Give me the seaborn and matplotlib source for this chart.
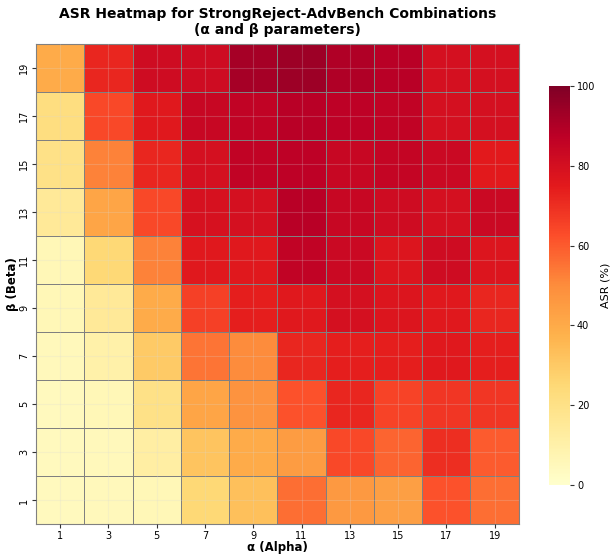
import matplotlib
matplotlib.use("Agg")
import matplotlib.pyplot as plt
import numpy as np
import pandas as pd
import seaborn as sns

alphas = [1, 3, 5, 7, 9, 11, 13, 15, 17, 19]
betas = [1, 3, 5, 7, 9, 11, 13, 15, 17, 19]

# ASR (%) per beta row, columns follow alphas
asr_b1 = [4, 5, 6, 25, 33, 56, 46, 44, 62, 56]
asr_b3 = [4, 5, 12, 32, 40, 45, 64, 58, 70, 60]
asr_b5 = [4, 6, 20, 42, 48, 62, 72, 65, 68, 68]
asr_b7 = [5, 10, 30, 55, 50, 72, 74, 74, 76, 74]
asr_b9 = [6, 15, 40, 66, 74, 76, 80, 77, 76, 72]
asr_b11 = [6, 25, 52, 76, 76, 86, 83, 77, 82, 77]
asr_b13 = [15, 42, 64, 79, 80, 88, 84, 82, 80, 83]
asr_b15 = [20, 52, 72, 80, 86, 87, 84, 85, 83, 75]
asr_b17 = [22, 64, 76, 84, 86, 88, 87, 86, 80, 80]
asr_b19 = [40, 72, 82, 82, 92, 94, 90, 88, 80, 80]

rows = [asr_b1, asr_b3, asr_b5, asr_b7, asr_b9,
        asr_b11, asr_b13, asr_b15, asr_b17, asr_b19]
df = pd.DataFrame(rows, index=betas, columns=alphas).iloc[::-1]

sns.set_style("whitegrid")
plt.rcParams["font.family"] = ["DejaVu Sans"]
plt.rcParams["text.color"] = "black"
plt.rcParams["axes.labelcolor"] = "black"
plt.rcParams["xtick.color"] = "black"
plt.rcParams["ytick.color"] = "black"

fig = plt.figure(figsize=(6.15, 5.55), dpi=100)
ax = fig.add_axes([0.0585, 0.055, 0.785, 0.866])
cax = fig.add_axes([0.893, 0.126, 0.034, 0.719])

sns.heatmap(df, ax=ax, cbar_ax=cax, cmap="YlOrRd", vmin=0, vmax=100,
            linewidths=0.7, linecolor="gray", square=False,
            cbar_kws={"label": "ASR (%)"})

ax.grid(True, color="0.85", alpha=0.22, linewidth=0.8)
ax.set_axisbelow(False)
ax.tick_params(axis="both", labelsize=7, length=3, width=0.8,
               bottom=True, left=True, color="0.2", pad=2)
ax.set_xlabel("α (Alpha)", fontsize=8.5, fontweight="bold", labelpad=0)
ax.set_ylabel("β (Beta)", fontsize=8.5, fontweight="bold", labelpad=0)
ax.set_title("ASR Heatmap for StrongReject-AdvBench Combinations\n(α and β parameters)",
             fontsize=10, fontweight="bold", pad=7)
for s in ax.spines.values():
    s.set_visible(True)
    s.set_color("gray")
    s.set_linewidth(0.8)

cax.tick_params(labelsize=7, length=3, width=0.8, right=True, color="0.2", pad=2)
cax.set_ylabel("ASR (%)", fontsize=8)
cax.set_yticks([0, 20, 40, 60, 80, 100])
cax.grid(False)

fig.savefig("out.png", dpi=100)
